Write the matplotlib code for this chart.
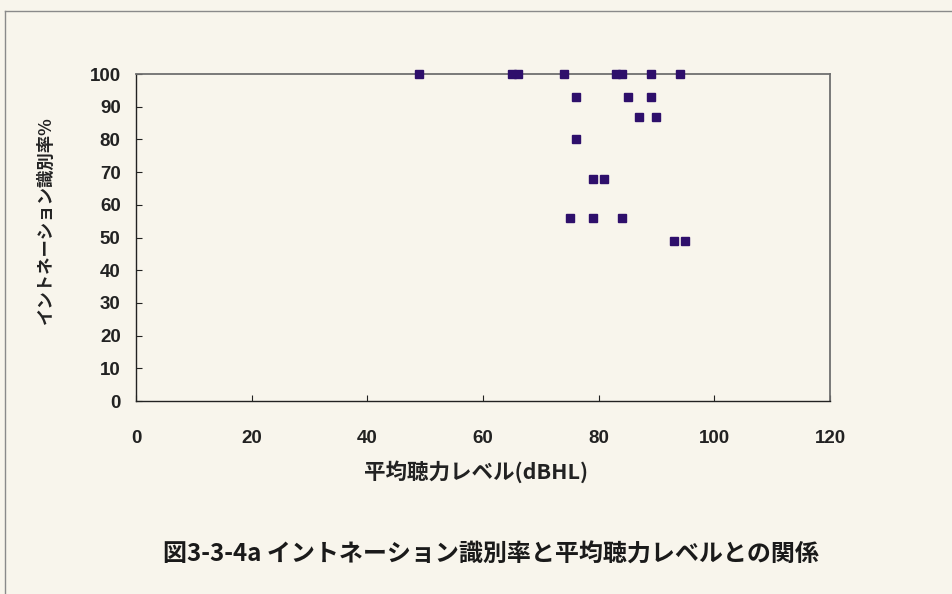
# -*- coding: utf-8 -*-

#%% Import required libraries
import matplotlib
matplotlib.use('Agg')
import matplotlib.pyplot as plt
from matplotlib.lines import Line2D

plt.rcParams['font.family'] = ['Noto Sans CJK JP', 'DejaVu Sans']

#%% Data
hearing_level = [49, 65, 66, 74, 83, 84, 89, 94,
                 76, 85, 89,
                 87, 90,
                 76,
                 79, 81,
                 75, 79, 84,
                 93, 95]
recognition = [100, 100, 100, 100, 100, 100, 100, 100,
               93, 93, 93,
               87, 87,
               80,
               68, 68,
               56, 56, 56,
               49, 49]

x_ticks = [0, 20, 40, 60, 80, 100, 120]
y_ticks = [0, 10, 20, 30, 40, 50, 60, 70, 80, 90, 100]

x_label = '平均聴力レベル(dBHL)'
y_label = 'イントネーション識別率%'
caption = '図3-3-4a イントネーション識別率と平均聴力レベルとの関係'

#%% Plot
bg = '#f8f5ec'
fig = plt.figure(figsize=(9.53, 5.94), dpi=100, facecolor=bg)
ax = fig.add_axes([0.1427, 0.3249, 0.7282, 0.5505], facecolor=bg)

ax.plot(hearing_level, recognition, linestyle='none', marker='s',
        markersize=5.8, color='#2e0f6b', markeredgecolor='#2e0f6b',
        clip_on=False, zorder=5)

ax.set_xlim(0, 120)
ax.set_ylim(0, 100)
ax.set_xticks(x_ticks)
ax.set_yticks(y_ticks)
ax.tick_params(direction='in', length=4, width=0.8, colors='#222222')
ax.tick_params(axis='x', pad=21)
ax.tick_params(axis='y', pad=11)
for lbl in ax.get_xticklabels() + ax.get_yticklabels():
    lbl.set_family(['Liberation Sans', 'DejaVu Sans'])
    lbl.set_fontweight('bold')
    lbl.set_fontsize(13.5)

for s in ['left', 'bottom']:
    ax.spines[s].set_color('#222222')
    ax.spines[s].set_linewidth(1.0)
for s in ['top', 'right']:
    ax.spines[s].set_color('#6f6f6f')
    ax.spines[s].set_linewidth(1.3)

ax.set_xlabel(x_label, fontsize=15.5, fontweight='bold', color='#222222')
ax.xaxis.set_label_coords(0.49, -0.18)
ax.set_ylabel(y_label, fontsize=12.5, fontweight='bold', color='#222222')
ax.yaxis.set_label_coords(-0.117, 0.553)

fig.text(0.515, 0.066, caption, ha='center', va='center', fontsize=17.3,
         fontweight='bold', color='#1a1a1a')

# scan border (top and left edge)
fig.add_artist(Line2D([0.005, 1.0], [0.982, 0.982], color='#8a8a8a', lw=1.0))
fig.add_artist(Line2D([0.005, 0.005], [0.0, 0.982], color='#8a8a8a', lw=1.0))

plt.savefig('out.png', dpi=100, facecolor=bg)
